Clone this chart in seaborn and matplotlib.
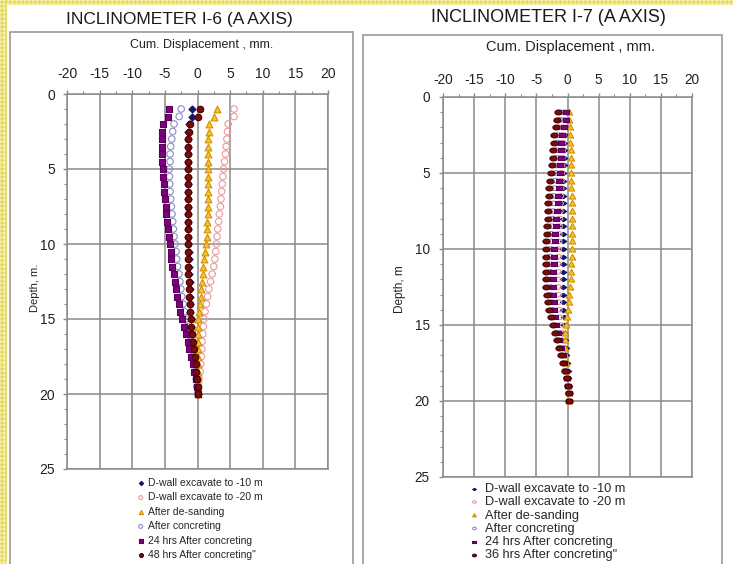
import numpy as np
import pandas as pd
import matplotlib
matplotlib.use("Agg")
import matplotlib.pyplot as plt
from matplotlib.patches import Rectangle
from matplotlib.path import Path
from matplotlib.ticker import MultipleLocator
import seaborn as sns

# ---------------- data ----------------
DEPTH = [1.0, 1.5, 2.0, 2.5, 3.0, 3.5, 4.0, 4.5, 5.0, 5.5, 6.0, 6.5, 7.0, 7.5,
         8.0, 8.5, 9.0, 9.5, 10.0, 10.5, 11.0, 11.5, 12.0, 12.5, 13.0, 13.5,
         14.0, 14.5, 15.0, 15.5, 16.0, 16.5, 17.0, 17.5, 18.0, 18.5, 19.0,
         19.5, 20.0]

X_TICKS = [-20, -15, -10, -5, 0, 5, 10, 15, 20]
Y_TICKS = [0, 5, 10, 15, 20, 25]

# Inclinometer I-6 (A axis), cumulative displacement in mm
i6_excav10 = [-0.9, -0.9, -1.3, -1.4, -1.4, -1.4, -1.4, -1.4, -1.4, -1.4, -1.4,
              -1.4, -1.4, -1.4, -1.4, -1.4, -1.4, -1.4, -1.4, -1.3, -1.3, -1.3,
              -1.3, -1.2, -1.2, -1.2, -1.1, -1.1, -1.0, -0.95, -0.8, -0.7,
              -0.55, -0.4, -0.3, -0.2, -0.1, -0.05, 0.0]
i6_excav20 = [5.6, 5.6, 4.7, 4.6, 4.5, 4.4, 4.3, 4.15, 4.0, 3.9, 3.8, 3.7, 3.6,
              3.5, 3.35, 3.25, 3.1, 3.0, 2.9, 2.8, 2.65, 2.5, 2.25, 2.0, 1.75,
              1.55, 1.35, 1.15, 1.0, 0.9, 0.8, 0.7, 0.65, 0.6, 0.5, 0.4, 0.25,
              0.15, 0.05]
i6_desand = [3.0, 2.5, 1.8, 1.7, 1.65, 1.65, 1.65, 1.65, 1.65, 1.6, 1.6, 1.6,
             1.6, 1.55, 1.55, 1.5, 1.5, 1.4, 1.3, 1.15, 1.0, 0.9, 0.8, 0.65,
             0.55, 0.5, 0.35, 0.25, 0.15, 0.1, 0.1, 0.1, 0.1, 0.1, 0.1, 0.1,
             0.1, 0.05, 0.0]
i6_concrete = [-2.5, -2.8, -3.6, -3.8, -3.95, -4.1, -4.2, -4.2, -4.3, -4.3,
               -4.25, -4.2, -4.1, -4.0, -3.9, -3.8, -3.7, -3.6, -3.45, -3.3,
               -3.2, -3.05, -2.85, -2.7, -2.55, -2.4, -2.2, -2.0, -1.8, -1.6,
               -1.35, -1.15, -0.95, -0.75, -0.55, -0.35, -0.2, -0.1, 0.0]
i6_24hrs = [-4.3, -4.5, -5.3, -5.4, -5.4, -5.45, -5.4, -5.4, -5.35, -5.3, -5.2,
            -5.1, -5.0, -4.9, -4.8, -4.65, -4.5, -4.4, -4.25, -4.1, -4.0, -3.9,
            -3.65, -3.45, -3.3, -3.1, -2.9, -2.65, -2.4, -2.1, -1.8, -1.5,
            -1.25, -1.0, -0.75, -0.5, -0.25, -0.1, 0.0]
i6_48hrs = [0.4, 0.15, -1.1, -1.3, -1.4, -1.45, -1.5, -1.5, -1.5, -1.5, -1.5,
            -1.5, -1.5, -1.5, -1.5, -1.5, -1.5, -1.5, -1.5, -1.45, -1.45, -1.4,
            -1.4, -1.35, -1.3, -1.3, -1.2, -1.15, -1.05, -0.95, -0.85, -0.7,
            -0.55, -0.4, -0.3, -0.2, -0.1, 0.0, 0.1]

# Inclinometer I-7 (A axis), cumulative displacement in mm
i7_excav10 = [-0.3, -0.3, -0.4, -0.45, -0.5, -0.5, -0.55, -0.6, -0.65, -0.65,
              -0.7, -0.7, -0.7, -0.7, -0.7, -0.7, -0.7, -0.7, -0.7, -0.7, -0.7,
              -0.7, -0.7, -0.7, -0.7, -0.7, -0.65, -0.6, -0.55, -0.5, -0.4,
              -0.3, -0.2, -0.1, 0.0, 0.1, 0.2, 0.25, 0.3]
i7_excav20 = [-0.6, -0.6, -0.7, -0.8, -0.8, -0.85, -0.9, -0.95, -1.0, -1.05,
              -1.1, -1.15, -1.2, -1.25, -1.3, -1.35, -1.4, -1.45, -1.5, -1.5,
              -1.55, -1.55, -1.55, -1.55, -1.5, -1.45, -1.4, -1.3, -1.2, -1.05,
              -0.9, -0.75, -0.55, -0.4, -0.2, -0.05, 0.1, 0.2, 0.3]
i7_desand = [0.3, 0.3, 0.35, 0.4, 0.45, 0.5, 0.5, 0.55, 0.55, 0.6, 0.6, 0.65,
             0.65, 0.7, 0.7, 0.7, 0.7, 0.7, 0.7, 0.65, 0.6, 0.55, 0.5, 0.4, 0.3,
             0.2, 0.05, -0.1, -0.25, -0.35, -0.4, -0.4, -0.35, -0.3, -0.2,
             -0.05, 0.1, 0.2, 0.3]
i7_concrete = [-1.2, -1.3, -1.4, -1.55, -1.6, -1.7, -1.75, -1.85, -1.9, -2.0,
               -2.1, -2.2, -2.3, -2.4, -2.45, -2.5, -2.6, -2.65, -2.7, -2.75,
               -2.8, -2.8, -2.8, -2.8, -2.75, -2.6, -2.45, -2.2, -2.0, -1.75,
               -1.5, -1.2, -0.9, -0.6, -0.35, -0.1, 0.1, 0.2, 0.3]
i7_24hrs = [-0.2, -0.3, -0.5, -0.9, -1.0, -1.1, -1.1, -1.2, -1.2, -1.3, -1.4,
            -1.5, -1.6, -1.7, -1.8, -1.9, -2.0, -2.0, -2.1, -2.2, -2.2, -2.3,
            -2.3, -2.3, -2.3, -2.2, -2.1, -2.0, -1.8, -1.6, -1.4, -1.1, -0.8,
            -0.6, -0.3, -0.1, 0.1, 0.2, 0.3]
i7_36hrs = [-1.6, -1.7, -1.9, -2.1, -2.2, -2.3, -2.4, -2.5, -2.65, -2.8, -2.9,
            -3.0, -3.1, -3.2, -3.2, -3.3, -3.35, -3.4, -3.45, -3.5, -3.5, -3.5,
            -3.5, -3.45, -3.35, -3.2, -3.0, -2.7, -2.4, -2.0, -1.7, -1.4, -1.0,
            -0.7, -0.4, -0.1, 0.1, 0.2, 0.3]

LABELS_I6 = ["D-wall excavate to -10 m", "D-wall excavate to -20 m",
             "After de-sanding", "After concreting",
             "24 hrs After concreting", "48 hrs After concreting\""]
LABELS_I7 = ["D-wall excavate to -10 m", "D-wall excavate to -20 m",
             "After de-sanding", "After concreting",
             "24 hrs After concreting", "36 hrs After concreting\""]


def wide(kind, stretch=1.5):
    """Marker path stretched horizontally (the I-7 chart uses squat markers)."""
    if kind == "o":
        t = np.linspace(0, 2 * np.pi, 40)
        v = np.column_stack([stretch * np.cos(t), np.sin(t)])
    elif kind == "s":
        v = np.array([[-1, -1], [1, -1], [1, 1], [-1, 1], [-1, -1]], float)
        v[:, 0] *= stretch
    elif kind == "D":
        v = np.array([[0, -1], [1, 0], [0, 1], [-1, 0], [0, -1]], float)
        v[:, 0] *= stretch
    else:  # triangle
        v = np.array([[-1, -0.8], [1, -0.8], [0, 1], [-1, -0.8]], float)
        v[:, 0] *= stretch * 0.85
    return Path(v, closed=True)


# marker, face colour, edge colour, size
STYLES_I6 = [
    ("D", "#14146e", "#14146e", 13),
    ("o", "none", "#e89a9a", 22),
    ("^", "#f4c430", "#d49000", 24),
    ("o", "none", "#8c8cc8", 22),
    ("s", "#800080", "#5a005a", 22),
    ("o", "#7a0c0c", "#4a0000", 22),
]
STYLES_I7 = [
    (wide("D"), "#14146e", "#14146e", 22),
    (wide("o"), "none", "#e89a9a", 24),
    (wide("^", 1.2), "#f4c430", "#d49000", 22),
    (wide("o"), "none", "#8c8cc8", 24),
    (wide("s"), "#800080", "#5a005a", 22),
    (wide("o"), "#7a0c0c", "#4a0000", 27),
]

# ---------------- figure ----------------
W, H = 733, 564
sns.set_theme(style="white")
plt.rcParams["font.family"] = ["Liberation Sans", "DejaVu Sans"]
plt.rcParams["axes.unicode_minus"] = False

fig = plt.figure(figsize=(W / 100, H / 100), dpi=100)


def fx(px):
    return px / W


def fy(py):
    return 1 - py / H


# soft yellow border strips along the left and top edges
for x0, y0, w, h in [(0, 0, 7, H), (0, 0, W, 5)]:
    fig.add_artist(Rectangle((fx(x0), fy(y0 + h)), w / W, h / H,
                             transform=fig.transFigure, facecolor="#f6f1b4",
                             edgecolor="#e3da6a", hatch="++++", lw=0,
                             zorder=0))

# panel frames
for x0, y0, x1 in [(10, 32, 353), (363, 35, 722)]:
    fig.add_artist(Rectangle((fx(x0), fy(H + 5)), (x1 - x0) / W, (H + 5 - y0) / H,
                             transform=fig.transFigure, fill=False,
                             edgecolor="#9a9a9a", lw=1.2, zorder=1))

GRID = "#8a8a8a"


def draw_panel(rect, series, labels, styles, tick_fs, xpad, ypad):
    ax = fig.add_axes(rect)
    for vals, lab, (mk, fc, ec, s) in zip(series, labels, styles):
        df = pd.DataFrame({"disp": vals, "depth": DEPTH})
        sns.scatterplot(data=df, x="disp", y="depth", marker=mk, s=s,
                        color=ec, edgecolor=ec, linewidth=0.8, ax=ax,
                        label=lab, zorder=3)
        coll = ax.collections[-1]
        coll.set_facecolor(fc)
        coll.set_edgecolor(ec)
    ax.set_xlim(-20, 20)
    ax.set_ylim(25, 0)
    ax.set_xticks(X_TICKS)
    ax.set_yticks(Y_TICKS)
    ax.xaxis.set_minor_locator(MultipleLocator(2.5))
    ax.yaxis.set_minor_locator(MultipleLocator(1))
    ax.xaxis.tick_top()
    ax.set_xlabel("")
    ax.set_ylabel("")
    ax.grid(True, which="major", color=GRID, lw=1.1)
    ax.tick_params(axis="x", which="major", direction="out", length=3,
                   width=1, color=GRID, pad=xpad, labelsize=tick_fs,
                   labelcolor="#222222", top=True, bottom=False)
    ax.tick_params(axis="x", which="minor", direction="out", length=2,
                   width=0.8, color=GRID, top=True, bottom=False)
    ax.tick_params(axis="y", which="major", direction="out", length=3,
                   width=1, color=GRID, pad=ypad, labelsize=tick_fs,
                   labelcolor="#222222", left=True)
    ax.tick_params(axis="y", which="minor", direction="out", length=2,
                   width=0.8, color=GRID, left=True)
    for sp in ax.spines.values():
        sp.set_color(GRID)
        sp.set_linewidth(1.1)
    return ax


# I-6 panel
ax1 = draw_panel([fx(67), fy(469), 261 / W, 375 / H],
                 [i6_excav10, i6_excav20, i6_desand, i6_concrete, i6_24hrs,
                  i6_48hrs], LABELS_I6, STYLES_I6, 10, 6.5, 5.5)
# I-7 panel
ax2 = draw_panel([fx(443), fy(477), 249 / W, 380 / H],
                 [i7_excav10, i7_excav20, i7_desand, i7_concrete, i7_24hrs,
                  i7_36hrs], LABELS_I7, STYLES_I7, 9.8, 4.5, 6.5)

# titles and axis labels
fig.text(fx(179), fy(19.5), "INCLINOMETER I-6 (A AXIS)", ha="center",
         va="center", fontsize=12.5, color="#1a1a1a")
fig.text(fx(548), fy(18), "INCLINOMETER I-7 (A AXIS)", ha="center",
         va="center", fontsize=13, color="#1a1a1a")
fig.text(fx(202), fy(45), "Cum. Displacement , mm.", ha="center",
         va="center", fontsize=9, color="#222222")
fig.text(fx(571), fy(47), "Cum. Displacement , mm.", ha="center",
         va="center", fontsize=10.5, color="#222222")
fig.text(fx(35), fy(288), "Depth, m.", ha="center", va="center",
         rotation=90, fontsize=8, color="#222222")
fig.text(fx(400), fy(289), "Depth, m", ha="center", va="center",
         rotation=90, fontsize=8.5, color="#222222")

# legends below each panel
ax1.legend(loc="upper left", bbox_to_anchor=(fx(137), fy(478)),
           bbox_transform=fig.transFigure, frameon=False, fontsize=7.5,
           handlelength=0.7, handletextpad=0.4, labelspacing=0.42,
           borderpad=0, borderaxespad=0, markerscale=0.6)
ax2.legend(loc="upper left", bbox_to_anchor=(fx(470), fy(483)),
           bbox_transform=fig.transFigure, frameon=False, fontsize=9.2,
           handlelength=0.7, handletextpad=0.45, labelspacing=0.1,
           borderpad=0, borderaxespad=0, markerscale=0.55)

fig.savefig("out.png", dpi=100)
